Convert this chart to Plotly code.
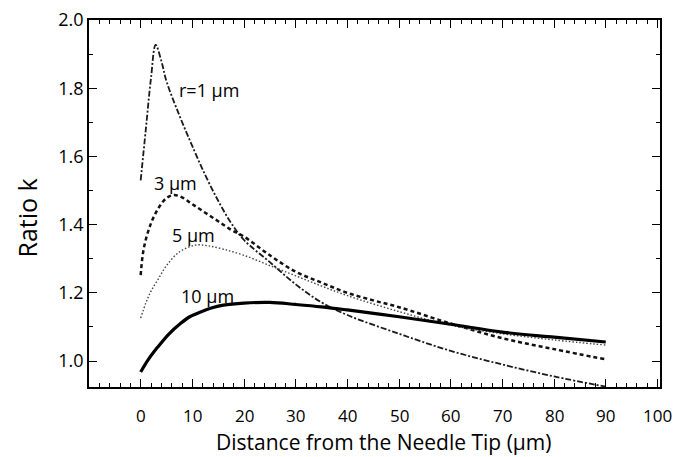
import plotly.graph_objects as go

# r = 1 um (dash-dot)
r1_x = [0, 1, 2, 2.9, 4, 5, 7.5, 10, 12.5, 15, 17.5, 20, 25, 30, 35, 40, 50, 60, 70, 80, 90]
r1_y = [1.53, 1.68, 1.83, 1.927, 1.88, 1.82, 1.72, 1.63, 1.545, 1.47, 1.405, 1.355, 1.29, 1.225, 1.172, 1.135, 1.08, 1.03, 0.99, 0.955, 0.925]

# r = 3 um (dashed)
r3_x = [0, 0.6, 1.9, 3.5, 5, 6.4, 8, 10, 12.5, 15, 17.5, 20, 25, 30, 35, 40, 45, 50, 60, 70, 80, 90]
r3_y = [1.252, 1.33, 1.40, 1.45, 1.478, 1.487, 1.48, 1.46, 1.435, 1.41, 1.385, 1.365, 1.31, 1.262, 1.23, 1.20, 1.178, 1.158, 1.11, 1.067, 1.035, 1.005]

# r = 5 um (dotted)
r5_x = [0, 1, 2, 3.3, 5, 7.5, 10.6, 13, 16, 20, 25, 30, 35, 40, 50, 60, 70, 80, 90]
r5_y = [1.126, 1.17, 1.205, 1.238, 1.28, 1.32, 1.34, 1.338, 1.328, 1.31, 1.28, 1.25, 1.22, 1.192, 1.145, 1.105, 1.08, 1.062, 1.047]

# r = 10 um (solid)
r10_x = [0, 1.5, 3.3, 5.5, 7.7, 9.5, 11.6, 14, 16, 20, 25, 30, 35, 40, 50, 60, 70, 80, 90]
r10_y = [0.968, 1.005, 1.041, 1.08, 1.11, 1.13, 1.144, 1.157, 1.164, 1.17, 1.172, 1.166, 1.159, 1.15, 1.13, 1.108, 1.085, 1.07, 1.056]

x_ticks = [0, 10, 20, 30, 40, 50, 60, 70, 80, 90, 100]
x_tick_text = ["0", "10", "20", "30", "40", "50", "60", "70", "80", "90", "100"]
y_ticks = [1.0, 1.2, 1.4, 1.6, 1.8, 2.0]

labels = ["r=1 μm", "3 μm", "5 μm", "10 μm"]
label_x = [13.2, 6.8, 10.3, 12.9]
label_y = [1.795, 1.522, 1.37, 1.19]

FONT = "Open Sans"

fig = go.Figure()
fig.add_trace(go.Scatter(x=r1_x, y=r1_y, mode="lines", line_shape="spline",
                         line=dict(color="#1a1a1a", width=1.8, dash="6px,2px,2px,2px")))
fig.add_trace(go.Scatter(x=r3_x, y=r3_y, mode="lines", line_shape="spline",
                         line=dict(color="#111", width=2.5, dash="4px,3px")))
fig.add_trace(go.Scatter(x=r5_x, y=r5_y, mode="lines", line_shape="spline",
                         line=dict(color="#444", width=1.4, dash="1.5px,2px")))
fig.add_trace(go.Scatter(x=r10_x, y=r10_y, mode="lines", line_shape="spline",
                         line=dict(color="#000", width=3.2)))

for t, lx, ly in zip(labels, label_x, label_y):
    fig.add_annotation(x=lx, y=ly, text=t, showarrow=False, xanchor="center", yanchor="middle",
                       font=dict(family=FONT, size=18, color="#000"))

# x tick labels, placed further below the frame than plotly's default
for tv, tt in zip(x_ticks, x_tick_text):
    fig.add_annotation(x=tv, xref="x", y=-0.079, yref="paper", text=tt, showarrow=False,
                       xanchor="center", yanchor="middle",
                       font=dict(family=FONT, size=17, color="#000"))

fig.add_annotation(xref="paper", yref="paper", x=-0.108, y=0.46, text="Ratio k", textangle=-90,
                   showarrow=False, xanchor="center", yanchor="middle",
                   font=dict(family=FONT, size=25, color="#000"))
fig.add_annotation(xref="x", yref="paper", x=47, y=-0.151, text="Distance from the Needle Tip (μm)",
                   showarrow=False, xanchor="center", yanchor="middle",
                   font=dict(family=FONT, size=21, color="#000"))

# page body has an 8px margin, so the plot area is offset inside the figure
fig.update_layout(
    width=688, height=457,
    margin=dict(l=81, r=36, t=12, b=78, autoexpand=False),
    paper_bgcolor="white", plot_bgcolor="white",
    showlegend=False,
    font=dict(family=FONT, color="#000"),
)
fig.update_xaxes(
    range=[-10, 100.5], tickvals=x_ticks, ticks="inside", ticklen=8, tickwidth=1.2,
    tickcolor="#000", showline=True, linecolor="#000", linewidth=1.6, mirror="allticks",
    showgrid=False, zeroline=False, showticklabels=False, automargin=False,
    minor=dict(dtick=2, tick0=0, ticks="inside", ticklen=4, tickwidth=1, tickcolor="#000"),
)
fig.update_yaxes(
    range=[0.924, 2.0], tickvals=y_ticks, tickformat=".1f", ticks="inside", ticklen=8, tickwidth=1.2,
    tickcolor="#000", showline=True, linecolor="#000", linewidth=1.6, mirror="allticks",
    showgrid=False, zeroline=False, tickfont=dict(size=18, family=FONT),
    automargin=False, ticklabeloverflow="allow",
    minor=dict(dtick=0.1, tick0=0, ticks="inside", ticklen=4, tickwidth=1, tickcolor="#000"),
)

fig.write_html("out.html")
